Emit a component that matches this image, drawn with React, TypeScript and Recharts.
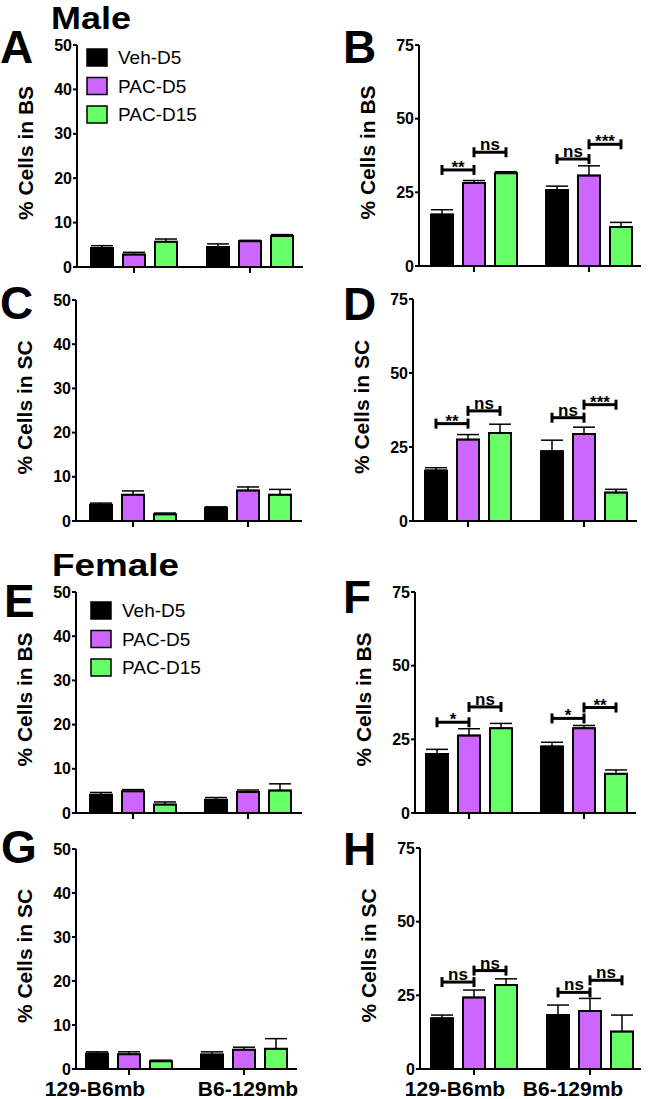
import React from 'react';
import { ComposedChart, Bar, Cell, XAxis, YAxis, ErrorBar, ReferenceLine } from 'recharts';

const FONT = '"Liberation Sans", Arial, Helvetica, sans-serif';

// ---------- data ----------
const strains = ['129-B6mb', 'B6-129mb'];
const seriesNames = ['Veh-D5', 'PAC-D5', 'PAC-D15'];
const seriesColors = ['#000000', '#CC66FF', '#66FF66'];

const ticks50 = [0, 10, 20, 30, 40, 50];
const ticks75 = [0, 25, 50, 75];

// rows = strain (129-B6mb, B6-129mb), cols = Veh-D5, PAC-D5, PAC-D15
const A_mean = [[4.3, 2.8, 5.7], [4.5, 5.8, 7.0]];
const A_sem = [[0.5, 0.5, 0.6], [0.7, 0.2, 0.3]];

const B_mean = [[17.5, 28.2, 31.5], [25.8, 30.7, 13.2]];
const B_sem = [[1.6, 0.8, 0.5], [1.3, 3.3, 1.6]];
const B_sig = [
  { g: 0, from: 0, to: 1, y: 32.6, text: '**' },
  { g: 0, from: 1, to: 2, y: 38.6, text: 'ns' },
  { g: 1, from: 0, to: 1, y: 36.3, text: 'ns' },
  { g: 1, from: 1, to: 2, y: 41.3, text: '***' },
];

const C_mean = [[3.7, 5.95, 1.5], [3.0, 6.9, 5.95]];
const C_sem = [[0.35, 0.85, 0.3], [0.2, 0.8, 1.2]];

const D_mean = [[17.1, 27.5, 29.7], [23.6, 29.4, 9.6]];
const D_sem = [[0.9, 1.7, 3.0], [3.7, 2.3, 1.1]];
const D_sig = [
  { g: 0, from: 0, to: 1, y: 32.9, text: '**' },
  { g: 0, from: 1, to: 2, y: 37.2, text: 'ns' },
  { g: 1, from: 0, to: 1, y: 34.9, text: 'ns' },
  { g: 1, from: 1, to: 2, y: 39.3, text: '***' },
];

const E_mean = [[4.15, 4.9, 1.9], [3.0, 4.75, 5.1]];
const E_sem = [[0.5, 0.4, 0.6], [0.5, 0.45, 1.5]];

const F_mean = [[20.0, 26.3, 28.8], [22.6, 28.8, 13.3]];
const F_sem = [[1.6, 2.3, 1.6], [1.4, 0.9, 1.3]];
const F_sig = [
  { g: 0, from: 0, to: 1, y: 30.8, text: '*' },
  { g: 0, from: 1, to: 2, y: 36.0, text: 'ns' },
  { g: 1, from: 0, to: 1, y: 32.1, text: '*' },
  { g: 1, from: 1, to: 2, y: 35.8, text: '**' },
];

const G_mean = [[3.5, 3.35, 1.75], [3.3, 4.4, 4.6]];
const G_sem = [[0.4, 0.55, 0.25], [0.6, 0.55, 2.3]];

const H_mean = [[17.2, 24.3, 28.5], [18.3, 19.65, 12.7]];
const H_sem = [[1.1, 2.5, 2.1], [3.4, 4.3, 5.6]];
const H_sig = [
  { g: 0, from: 0, to: 1, y: 29.5, text: 'ns' },
  { g: 0, from: 1, to: 2, y: 33.4, text: 'ns' },
  { g: 1, from: 0, to: 1, y: 26.0, text: 'ns' },
  { g: 1, from: 1, to: 2, y: 30.1, text: 'ns' },
];

// ---------- layout ----------
// [axisLeft, axisRight, tick0, tick1, plotTop, plotZero] in page pixels
const Y_W = 77;
const M_TOP = 12;
const M_RIGHT = 4;
const X_H = 30;
const BAR_STEP = 32;

type Sig = { g: number; from: number; to: number; y: number; text: string };

function bracketShape(text: string) {
  return (p: any) => {
    const x1 = p.x1, x2 = p.x2, y = p.y1;
    const isStar = text.indexOf('*') >= 0;
    return (
      <g>
        <line x1={x1} y1={y} x2={x2} y2={y} stroke="#000" strokeWidth={3} />
        <line x1={x1} y1={y - 5} x2={x1} y2={y + 5} stroke="#000" strokeWidth={3} />
        <line x1={x2} y1={y - 5} x2={x2} y2={y + 5} stroke="#000" strokeWidth={3} />
        <text
          x={(x1 + x2) / 2}
          y={isStar ? y + 3 : y - 2}
          textAnchor="middle"
          fontSize={17}
          fontWeight="bold"
          fontFamily={FONT}
          fill="#000"
        >
          {text}
        </text>
      </g>
    );
  };
}

function Panel(props: {
  geo: number[];
  mean: number[][];
  sem: number[][];
  sig?: Sig[];
  yMax: number;
  yTicks: number[];
  yLabel: string;
  showX?: boolean;
  xShift?: number[];
}) {
  const { geo, mean, sem, sig = [], yMax, yTicks, yLabel, showX, xShift = [0, 0] } = props;
  const [axL, axR, t0, t1, top, zero] = geo;
  const k = t1 - t0;
  const lo = -(t0 - axL) / k;
  const hi = (axR - t0) / k;
  const off = BAR_STEP / k;
  const chartLeft = axL - Y_W;
  const chartTop = top - M_TOP;
  const width = axR - chartLeft + M_RIGHT;
  const height = zero - chartTop + X_H;
  const plotH = zero - top;

  const rows: any[] = [];
  mean.forEach((grp, g) =>
    grp.forEach((v, s) => rows.push({ x: g + (s - 1) * off, v, e: [0, sem[g][s]], s }))
  );

  const xTick = (tp: any) => {
    if (!showX) return <g />;
    const idx = Math.round(tp.payload.value);
    return (
      <text
        x={tp.x + xShift[idx]}
        y={tp.y + 19}
        textAnchor="middle"
        fontSize={21}
        fontWeight="bold"
        fontFamily={FONT}
        fill="#000"
      >
        {strains[idx]}
      </text>
    );
  };

  const yLabelContent = () => (
    <text
      transform={`translate(33, ${M_TOP + plotH / 2 - 3}) rotate(-90)`}
      textAnchor="middle"
      fontSize={21}
      fontWeight="bold"
      fontFamily={FONT}
      fill="#000"
    >
      {yLabel}
    </text>
  );

  return (
    <div style={{ position: 'absolute', left: chartLeft, top: chartTop, width, height }}>
      <ComposedChart
        width={width}
        height={height}
        data={rows}
        margin={{ top: M_TOP, right: M_RIGHT, left: 0, bottom: 0 }}
      >
        <XAxis
          type="number"
          dataKey="x"
          domain={[lo, hi]}
          allowDataOverflow
          ticks={[0, 1]}
          interval={0}
          height={X_H}
          tickSize={6}
          tickMargin={2}
          tickLine={{ stroke: '#000', strokeWidth: 2 }}
          axisLine={{ stroke: '#000', strokeWidth: 2 }}
          tick={xTick}
        />
        <YAxis
          type="number"
          domain={[0, yMax]}
          allowDataOverflow
          ticks={yTicks}
          interval={0}
          width={Y_W}
          tickSize={4}
          tickMargin={1}
          tick={{ fill: '#000', fontSize: 16, fontWeight: 'bold', fontFamily: FONT }}
          tickLine={{ stroke: '#000', strokeWidth: 2 }}
          axisLine={{ stroke: '#000', strokeWidth: 2 }}
          label={{ value: yLabel, content: yLabelContent }}
        />
        <Bar dataKey="v" barSize={22} isAnimationActive={false} stroke="#000" strokeWidth={2}>
          {rows.map((r, i) => (
            <Cell key={i} fill={seriesColors[r.s]} />
          ))}
          <ErrorBar dataKey="e" width={11} stroke="#000" strokeWidth={1.5} direction="y" />
        </Bar>
        {sig.map((b, i) => (
          <ReferenceLine
            key={'s' + i}
            ifOverflow="visible"
            segment={[
              { x: b.g + (b.from - 1) * off, y: b.y },
              { x: b.g + (b.to - 1) * off, y: b.y },
            ]}
            stroke="#000"
            shape={bracketShape(b.text)}
          />
        ))}
      </ComposedChart>
    </div>
  );
}

function Legend2({ x, y }: { x: number; y: number }) {
  return (
    <g>
      {seriesNames.map((n, i) => (
        <g key={n}>
          <rect x={x} y={y + i * 28.5} width={20} height={17} fill={seriesColors[i]} stroke="#000" strokeWidth={1.5} />
          <text x={x + 31} y={y + i * 28.5 + 15} fontSize={19} fontFamily={FONT} fill="#000">
            {n}
          </text>
        </g>
      ))}
    </g>
  );
}

export default function App() {
  const letter = (t: string, x: number, y: number) => (
    <text key={t} x={x} y={y} fontSize={46} fontWeight="bold" fontFamily={FONT} fill="#000">
      {t}
    </text>
  );
  return (
    <div
      style={{
        position: 'absolute',
        left: 0,
        top: 0,
        width: 648,
        height: 1099,
        overflow: 'hidden',
        background: '#fff',
        fontFamily: FONT,
      }}
    >
      <Panel geo={[77, 303, 134, 250, 45, 267]} mean={A_mean} sem={A_sem} yMax={50} yTicks={ticks50} yLabel="% Cells in BS" />
      <Panel geo={[419, 641, 474, 589, 45, 266]} mean={B_mean} sem={B_sem} sig={B_sig} yMax={75} yTicks={ticks75} yLabel="% Cells in BS" />
      <Panel geo={[76, 302, 133, 248, 300, 521]} mean={C_mean} sem={C_sem} yMax={50} yTicks={ticks50} yLabel="% Cells in SC" />
      <Panel geo={[413, 637, 468, 584, 299, 521]} mean={D_mean} sem={D_sem} sig={D_sig} yMax={75} yTicks={ticks75} yLabel="% Cells in SC" />
      <Panel geo={[76, 302, 133, 248, 592, 813]} mean={E_mean} sem={E_sem} yMax={50} yTicks={ticks50} yLabel="% Cells in BS" />
      <Panel geo={[415, 636, 469, 584, 592, 813]} mean={F_mean} sem={F_sem} sig={F_sig} yMax={75} yTicks={ticks75} yLabel="% Cells in BS" />
      <Panel geo={[76, 297, 129, 244, 849, 1069]} mean={G_mean} sem={G_sem} yMax={50} yTicks={ticks50} yLabel="% Cells in SC" showX xShift={[-34, 4]} />
      <Panel geo={[420, 641, 474, 590, 848, 1069]} mean={H_mean} sem={H_sem} sig={H_sig} yMax={75} yTicks={ticks75} yLabel="% Cells in SC" showX xShift={[-19, -17]} />
      <svg width={648} height={1099} style={{ position: 'absolute', left: 0, top: 0, pointerEvents: 'none' }}>
        <text x={51} y={29} fontSize={31} fontWeight="bold" fontFamily={FONT} fill="#000" textLength={80} lengthAdjust="spacingAndGlyphs">Male</text>
        <text x={52} y={576} fontSize={31} fontWeight="bold" fontFamily={FONT} fill="#000" textLength={127} lengthAdjust="spacingAndGlyphs">Female</text>
        {letter('A', 0, 63)}
        {letter('B', 343, 63)}
        {letter('C', 0, 319)}
        {letter('D', 343, 320)}
        {letter('E', 4, 617)}
        {letter('F', 343, 613)}
        {letter('G', 1, 863)}
        {letter('H', 343, 865)}
        <Legend2 x={87} y={49} />
        <Legend2 x={91} y={602} />
      </svg>
    </div>
  );
}
